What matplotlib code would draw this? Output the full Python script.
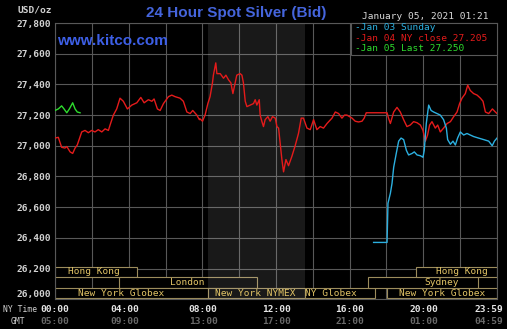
import matplotlib.pyplot as plt
from matplotlib.patches import Rectangle
from matplotlib.ticker import FuncFormatter

# Jan 04 (red) - hours of NY time and bid price
jan04_hours = [0.00, 0.18, 0.36, 0.54, 0.64, 0.82, 0.96, 1.09, 1.21, 1.45, 1.63, 1.81, 1.99, 2.17,
               2.35, 2.54, 2.72, 2.90, 2.99, 3.17, 3.35, 3.53, 3.71, 3.93, 4.17, 4.44, 4.66, 4.84,
               5.07, 5.26, 5.38, 5.56, 5.71, 5.89, 6.16, 6.34, 6.52, 6.79, 6.97, 7.16, 7.34, 7.48,
               7.70, 7.84, 7.88, 8.01, 8.15, 8.30, 8.42, 8.55, 8.60, 8.73, 8.79, 8.97, 9.15, 9.28,
               9.42, 9.55, 9.66, 9.78, 9.87, 10.05, 10.15, 10.23, 10.33, 10.42, 10.60, 10.78, 10.87,
               10.96, 11.09, 11.14, 11.23, 11.32, 11.41, 11.56, 11.68, 11.81, 11.96, 12.05, 12.14,
               12.23, 12.32, 12.41, 12.54, 12.68, 12.86, 13.04, 13.22, 13.37, 13.49, 13.68, 13.86,
               14.04, 14.22, 14.40, 14.58, 14.77, 15.04, 15.22, 15.40, 15.58, 15.72, 15.85, 16.13,
               16.30, 16.48, 16.67, 16.79, 16.90, 18.03, 18.11, 18.21, 18.39, 18.57, 18.75, 18.93,
               19.11, 19.29, 19.47, 19.66, 19.84, 19.98, 20.11, 20.23, 20.34, 20.47, 20.65, 20.78,
               20.92, 21.10, 21.29, 21.47, 21.65, 21.83, 21.97, 22.10, 22.28, 22.41, 22.55, 22.73,
               22.92, 23.10, 23.24, 23.37, 23.55, 23.75, 23.91, 24.00]
jan04_price = [27.050, 27.055, 26.990, 26.985, 26.995, 26.960, 26.950, 26.985, 27.005, 27.090,
               27.100, 27.085, 27.100, 27.090, 27.105, 27.090, 27.110, 27.100, 27.135, 27.200,
               27.240, 27.310, 27.290, 27.240, 27.265, 27.280, 27.315, 27.280, 27.300, 27.290,
               27.305, 27.240, 27.230, 27.275, 27.320, 27.330, 27.320, 27.310, 27.290, 27.220,
               27.210, 27.230, 27.200, 27.170, 27.175, 27.160, 27.200, 27.275, 27.320, 27.410,
               27.460, 27.540, 27.470, 27.470, 27.440, 27.460, 27.430, 27.410, 27.340, 27.410,
               27.460, 27.470, 27.460, 27.410, 27.290, 27.255, 27.265, 27.275, 27.300, 27.265,
               27.300, 27.200, 27.160, 27.125, 27.170, 27.190, 27.160, 27.190, 27.180, 27.125,
               27.115, 27.015, 26.910, 26.830, 26.910, 26.870, 26.930, 27.000, 27.080, 27.180,
               27.180, 27.115, 27.105, 27.170, 27.105, 27.125, 27.115, 27.145, 27.180, 27.220,
               27.210, 27.180, 27.200, 27.200, 27.180, 27.160, 27.155, 27.160, 27.180, 27.215,
               27.215, 27.180, 27.145, 27.220, 27.250, 27.220, 27.170, 27.125, 27.135, 27.157,
               27.150, 27.135, 27.100, 27.030, 27.070, 27.135, 27.157, 27.115, 27.135, 27.090,
               27.115, 27.145, 27.157, 27.190, 27.220, 27.275, 27.310, 27.340, 27.395, 27.360,
               27.340, 27.330, 27.310, 27.290, 27.220, 27.210, 27.240, 27.220, 27.210]

# Jan 03 Sunday (cyan)
jan03_hours = [17.30, 18.03, 18.08, 18.21, 18.30, 18.39, 18.53, 18.66, 18.79, 18.93, 19.08, 19.20,
               19.39, 19.51, 19.66, 19.84, 19.98, 20.05, 20.16, 20.29, 20.42, 20.56, 20.74, 20.92,
               21.10, 21.25, 21.32, 21.47, 21.61, 21.74, 21.86, 22.01, 22.19, 22.37, 22.55, 22.73,
               23.00, 23.28, 23.55, 23.74, 23.86, 24.00]
jan03_price = [26.370, 26.370, 26.625, 26.690, 26.755, 26.860, 26.950, 27.030, 27.050, 27.040,
               26.970, 26.940, 26.950, 26.960, 26.940, 26.935, 26.925, 26.970, 27.145, 27.265,
               27.230, 27.220, 27.210, 27.200, 27.170, 27.115, 27.040, 27.010, 27.030, 27.005,
               27.050, 27.090, 27.070, 27.080, 27.070, 27.060, 27.050, 27.040, 27.030, 27.000,
               27.030, 27.050]

# Jan 05 (green)
jan05_hours = [0.00, 0.18, 0.36, 0.49, 0.64, 0.78, 0.96, 1.09, 1.21, 1.36]
jan05_price = [27.230, 27.240, 27.260, 27.240, 27.215, 27.240, 27.280, 27.240, 27.220, 27.215]

price_ticks = [26.0, 26.2, 26.4, 26.6, 26.8, 27.0, 27.2, 27.4, 27.6, 27.8]
ny_labels = ["00:00", "04:00", "08:00", "12:00", "16:00", "20:00", "23:59"]
gmt_labels = ["05:00", "09:00", "13:00", "17:00", "21:00", "01:00", "04:59"]

session_names = ["Hong Kong", "London", "New York Globex", "New York NYMEX", "NY Globex",
                 "New York Globex", "Sydney", "Hong Kong"]
session_start = [0.0, 3.48, 0.0, 8.32, 13.59, 18.04, 17.0, 19.62]
session_end = [4.46, 10.98, 8.32, 13.59, 17.39, 24.0, 22.99, 24.0]
session_row = [0, 1, 2, 2, 2, 2, 1, 0]

legend_texts = ["-Jan 03 Sunday", "-Jan 04 NY close 27.205", "-Jan 05 Last 27.250"]

# layout bits
label_hours = [-0.05, 3.75, 7.99, 11.98, 15.95, 19.97, 23.5]
session_text_at = [2.1, 7.2, 3.6, 10.9, 15.0, 21.0, 21.0, 22.1]
row_y = [(26.145, 26.21), (26.073, 26.145), (26.005, 26.073)]

W, H = 507, 329
mono = "DejaVu Sans Mono"
grid_c = "#585858"
red, cyan, green = "#e41b1b", "#2cb0e0", "#2edc2e"

fig = plt.figure(figsize=(W / 100, H / 100), dpi=100, facecolor="black")
ax = fig.add_axes([55 / W, (H - 299.2) / H, 442 / W, 276.2 / H], facecolor="black")
ax.set_xlim(0, 24)
ax.set_ylim(26.0, 27.8)

ax.set_xticks(range(0, 25, 2))
ax.set_yticks(price_ticks)
ax.yaxis.set_major_formatter(FuncFormatter(lambda v, p: f"{v * 1000:,.0f}"))
ax.tick_params(length=0, labelbottom=False, colors="#d2d2d2", labelsize=6.8, pad=3)
for t in ax.get_yticklabels():
    t.set_fontfamily(mono)
    t.set_fontweight("bold")
ax.get_yticklabels()[0].set_va("bottom")
ax.grid(True, color=grid_c, lw=0.8)
ax.set_axisbelow(True)
for s in ax.spines.values():
    s.set_color(grid_c)
    s.set_linewidth(0.8)

# session boxes
for name, a, b, r, tx in zip(session_names, session_start, session_end, session_row, session_text_at):
    y0, y1 = row_y[r]
    ax.add_patch(Rectangle((a, y0), b - a, y1 - y0, facecolor="black", edgecolor="#9c8c5c",
                           lw=0.8, zorder=2))
    ax.text(tx, (y0 + y1) / 2, name, ha="center", va="center", color="#e2c466",
            fontsize=6.8, family=mono, zorder=3)

# NY trading hours shading
ax.axvspan(8.32, 13.59, color="white", alpha=0.1, lw=0, zorder=2.5)

ax.plot(jan04_hours, jan04_price, color=red, lw=1.0, zorder=4)
ax.plot(jan03_hours, jan03_price, color=cyan, lw=1.0, zorder=4)
ax.plot(jan05_hours, jan05_price, color=green, lw=1.0, zorder=4)

# legend box
ax.add_patch(Rectangle((296 / 442, 244.2 / 276.2), 146 / 442, 32 / 276.2, transform=ax.transAxes,
                       facecolor="black", edgecolor=grid_c, lw=0.8, zorder=5, clip_on=False))
for i, (txt, c) in enumerate(zip(legend_texts, [cyan, red, green])):
    fig.text(355 / W, 1 - (28 + 10.3 * i) / H, txt, color=c, fontsize=6.8, family=mono,
             va="center", ha="left", zorder=6)

# header texts
fig.text(236 / W, 1 - 13.5 / H, "24 Hour Spot Silver (Bid)", color="#4565dc", fontsize=11,
         fontweight="bold", family="Liberation Sans", ha="center", va="center")
fig.text(57 / W, 1 - 41 / H, "www.kitco.com", color="#3d5fe6", fontsize=11, fontweight="bold",
         family="Liberation Sans", ha="left", va="center")
fig.text(488 / W, 1 - 16.5 / H, "January 05, 2021 01:21", color="#dadada", fontsize=6.8,
         family=mono, ha="right", va="center")
fig.text(18 / W, 1 - 10 / H, "USD/oz", color="#d2d2d2", fontsize=6.8, family=mono,
         fontweight="bold", ha="left", va="center")

# time labels
fig.text(3 / W, 1 - 310 / H, "NY Time", color="#d2d2d2", fontsize=5.8, family=mono,
         ha="left", va="center")
fig.text(11 / W, 1 - 321.5 / H, "GMT", color="#d2d2d2", fontsize=5.8, family=mono,
         ha="left", va="center")
for h, ny, gmt in zip(label_hours, ny_labels, gmt_labels):
    xp = (56 + h * 18.4) / W
    fig.text(xp, 1 - 310 / H, ny, color="#e6e6e6", fontsize=6.8, family=mono,
             fontweight="bold", ha="center", va="center")
    fig.text(xp, 1 - 321.5 / H, gmt, color="#6a6a6a", fontsize=6.8, family=mono,
             fontweight="bold", ha="center", va="center")

fig.savefig("out.png", dpi=100, facecolor="black")
